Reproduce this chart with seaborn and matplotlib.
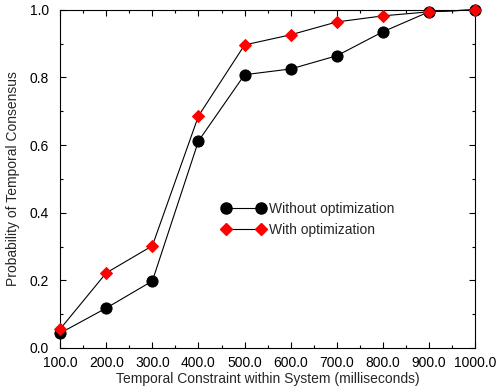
import matplotlib
matplotlib.use("Agg")
import matplotlib.pyplot as plt
import seaborn as sns
import pandas as pd
from matplotlib.ticker import MultipleLocator, FormatStrFormatter
from matplotlib.lines import Line2D

constraint_ms = [100, 200, 300, 400, 500, 600, 700, 800, 900, 1000]
without_opt = [0.044, 0.118, 0.198, 0.612, 0.808, 0.825, 0.864, 0.935, 0.994, 1.0]
with_opt = [0.056, 0.222, 0.302, 0.686, 0.896, 0.926, 0.964, 0.982, 0.994, 1.0]

sns.set_theme(style="ticks")
plt.rcParams['font.family'] = ['Liberation Sans', 'DejaVu Sans']

df = pd.DataFrame({
    "x": constraint_ms * 2,
    "y": without_opt + with_opt,
    "series": ["Without optimization"] * len(constraint_ms) + ["With optimization"] * len(constraint_ms),
})

fig, ax = plt.subplots(figsize=(4.97, 3.91), dpi=100)
fig.subplots_adjust(left=0.121, right=0.956, top=0.975, bottom=0.11)

sns.lineplot(data=df, x="x", y="y", hue="series", style="series",
             palette={"Without optimization": "black", "With optimization": "red"},
             markers={"Without optimization": "o", "With optimization": "D"},
             dashes=False, ax=ax, legend=False)

for line, mc, ms in zip(ax.lines, ["black", "red"], [8, 6.5]):
    line.set_color("black")
    line.set_linewidth(0.8)
    line.set_markerfacecolor(mc)
    line.set_markeredgecolor(mc)
    line.set_markersize(ms)
    line.set_clip_on(False)
    line.set_zorder(5)

ax.set_xlim(100, 1000)
ax.set_ylim(0, 1.0)
ax.xaxis.set_major_locator(MultipleLocator(100))
ax.xaxis.set_minor_locator(MultipleLocator(50))
ax.yaxis.set_major_locator(MultipleLocator(0.2))
ax.yaxis.set_minor_locator(MultipleLocator(0.1))
ax.xaxis.set_major_formatter(FormatStrFormatter("%.1f"))
ax.yaxis.set_major_formatter(FormatStrFormatter("%.1f"))
ax.tick_params(which="both", direction="in", top=True, right=True, labelsize=10, colors="black")
ax.tick_params(which="major", length=4, width=0.8)
ax.tick_params(which="minor", length=2, width=0.8)
ax.tick_params(axis="x", which="major", pad=6)
ax.tick_params(axis="y", which="major", pad=8)
for s in ax.spines.values():
    s.set_visible(True)
    s.set_color("black")
    s.set_linewidth(0.8)

ax.set_xlabel("Temporal Constraint within System (milliseconds)", fontsize=10, labelpad=1)
ax.set_ylabel("Probability of Temporal Consensus", fontsize=10, labelpad=7)

handles = [Line2D([], [], color="black", lw=0.8, marker="o", markersize=8,
                  markerfacecolor="black", markeredgecolor="black"),
           Line2D([], [], color="black", lw=0.8, marker="D", markersize=6.5,
                  markerfacecolor="red", markeredgecolor="red")]
ax.legend(handles, ["Without optimization", "With optimization"],
          loc="center left", bbox_to_anchor=(0.36, 0.38), frameon=False,
          fontsize=10, handlelength=3.1, handletextpad=0.3, labelspacing=0.45,
          numpoints=2)

fig.savefig("out.png", dpi=100)
